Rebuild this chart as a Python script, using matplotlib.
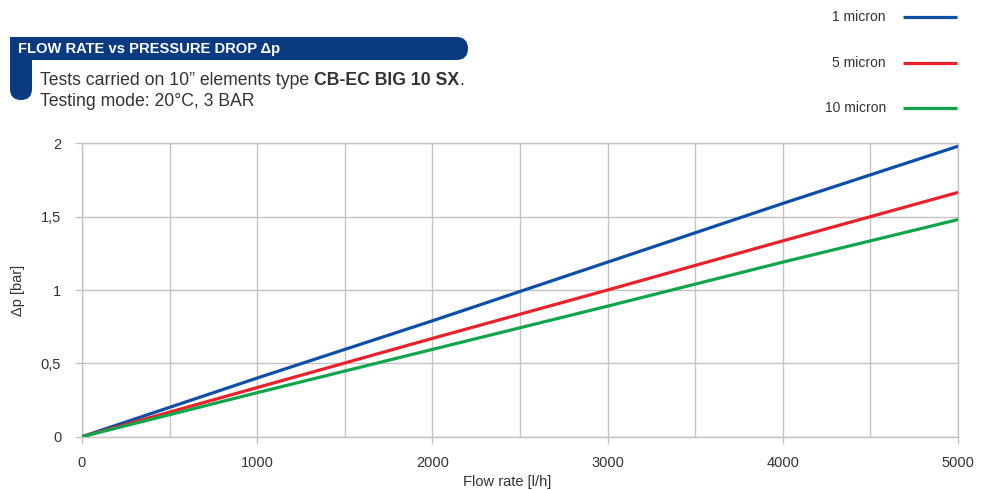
import numpy as np
import matplotlib
matplotlib.use('Agg')
import matplotlib.pyplot as plt
from matplotlib.patches import FancyBboxPatch, Rectangle

# DATA
flow = [0, 1000, 2000, 3000, 4000, 5000]
dp_1 = [0, 0.40, 0.79, 1.19, 1.59, 1.98]
dp_5 = [0, 0.335, 0.67, 1.0, 1.335, 1.665]
dp_10 = [0, 0.30, 0.595, 0.89, 1.19, 1.48]
series_names = ['1 micron', '5 micron', '10 micron']
series_colors = ['#0d4ea6', '#e8212b', '#10a54a']
y_ticks = [0, 0.5, 1, 1.5, 2]
y_ticklabels = ['0', '0,5', '1', '1,5', '2']
x_ticks = [0, 1000, 2000, 3000, 4000, 5000]

plt.rcParams['font.family'] = ['Liberation Sans Narrow', 'Liberation Sans', 'DejaVu Sans']
txt_col = '#333333'
grid_col = '#c3c3c3'
navy = '#0a3b80'

fig = plt.figure(figsize=(9.86, 4.9), dpi=100)
ax = fig.add_axes([82/986, 1-436.7/490, (958-82)/986, (436.7-143.3)/490])

for vals, c in zip([dp_1, dp_5, dp_10], series_colors):
    ax.plot(flow, vals, color=c, lw=2.3, solid_capstyle='butt', zorder=3)

ax.set_xlim(0, 5000)
ax.set_ylim(0, 2)
ax.set_xticks(x_ticks)
ax.set_xticks(np.arange(500, 5000, 1000), minor=True)
ax.set_yticks(y_ticks)
ax.set_yticklabels(y_ticklabels)
ax.grid(True, which='both', color=grid_col, lw=1)
ax.tick_params(axis='both', which='major', color=grid_col, length=5, width=1,
               labelsize=10.5, labelcolor=txt_col)
ax.tick_params(axis='x', which='major', pad=9)
ax.tick_params(axis='y', which='major', pad=10)
ax.tick_params(axis='x', which='minor', length=0)
for s in ax.spines.values():
    s.set_color(grid_col)
    s.set_linewidth(1)
ax.set_xlabel('Flow rate [l/h]', fontsize=10.5, color=txt_col)
ax.xaxis.set_label_coords((507-82)/876, -0.13)
ax.set_ylabel('Δp [bar]', fontsize=10.5, color=txt_col)
ax.yaxis.set_label_coords((25-82)/876, 0.5)

# overlay in pixel coordinates for header and legend
ov = fig.add_axes([0, 0, 1, 1], zorder=-1)
ov.set_xlim(0, 986)
ov.set_ylim(490, 0)
ov.axis('off')

ov.add_patch(FancyBboxPatch((10, 37), 458, 23, boxstyle='round,pad=0,rounding_size=11.5',
                            fc=navy, ec='none'))
ov.add_patch(Rectangle((10, 37), 30, 23, fc=navy, ec='none'))
ov.add_patch(FancyBboxPatch((10, 45), 22, 55, boxstyle='round,pad=0,rounding_size=11',
                            fc=navy, ec='none'))
ov.add_patch(Rectangle((10, 45), 22, 20, fc=navy, ec='none'))

ov.text(18, 49, 'FLOW RATE vs PRESSURE DROP Δp', color='white', fontsize=10.6,
        fontweight='bold', va='center', ha='left')
t1 = ov.text(40, 85, 'Tests carried on 10\u201d elements type ', color=txt_col,
             fontsize=12.7, va='baseline', ha='left')
fig.canvas.draw()
r = fig.canvas.get_renderer()
bb = t1.get_window_extent(r)
t2 = ov.text(bb.x1, 85, 'CB-EC BIG 10 SX', color=txt_col, fontsize=12.7,
             fontweight='bold', va='baseline', ha='left')
bb2 = t2.get_window_extent(r)
ov.text(bb2.x1, 85, '.', color=txt_col, fontsize=12.7, va='baseline', ha='left')
ov.text(40, 106, 'Testing mode: 20°C, 3 BAR', color=txt_col, fontsize=12.7,
        va='baseline', ha='left')

# legend
leg_y = [17, 63, 108]
for name, c, yy in zip(series_names, series_colors, leg_y):
    ov.text(886, yy, name, color=txt_col, fontsize=10, ha='right', va='center')
    ov.plot([903, 957], [yy, yy], color=c, lw=2.3, solid_capstyle='butt')

fig.savefig('out.png', dpi=100)
